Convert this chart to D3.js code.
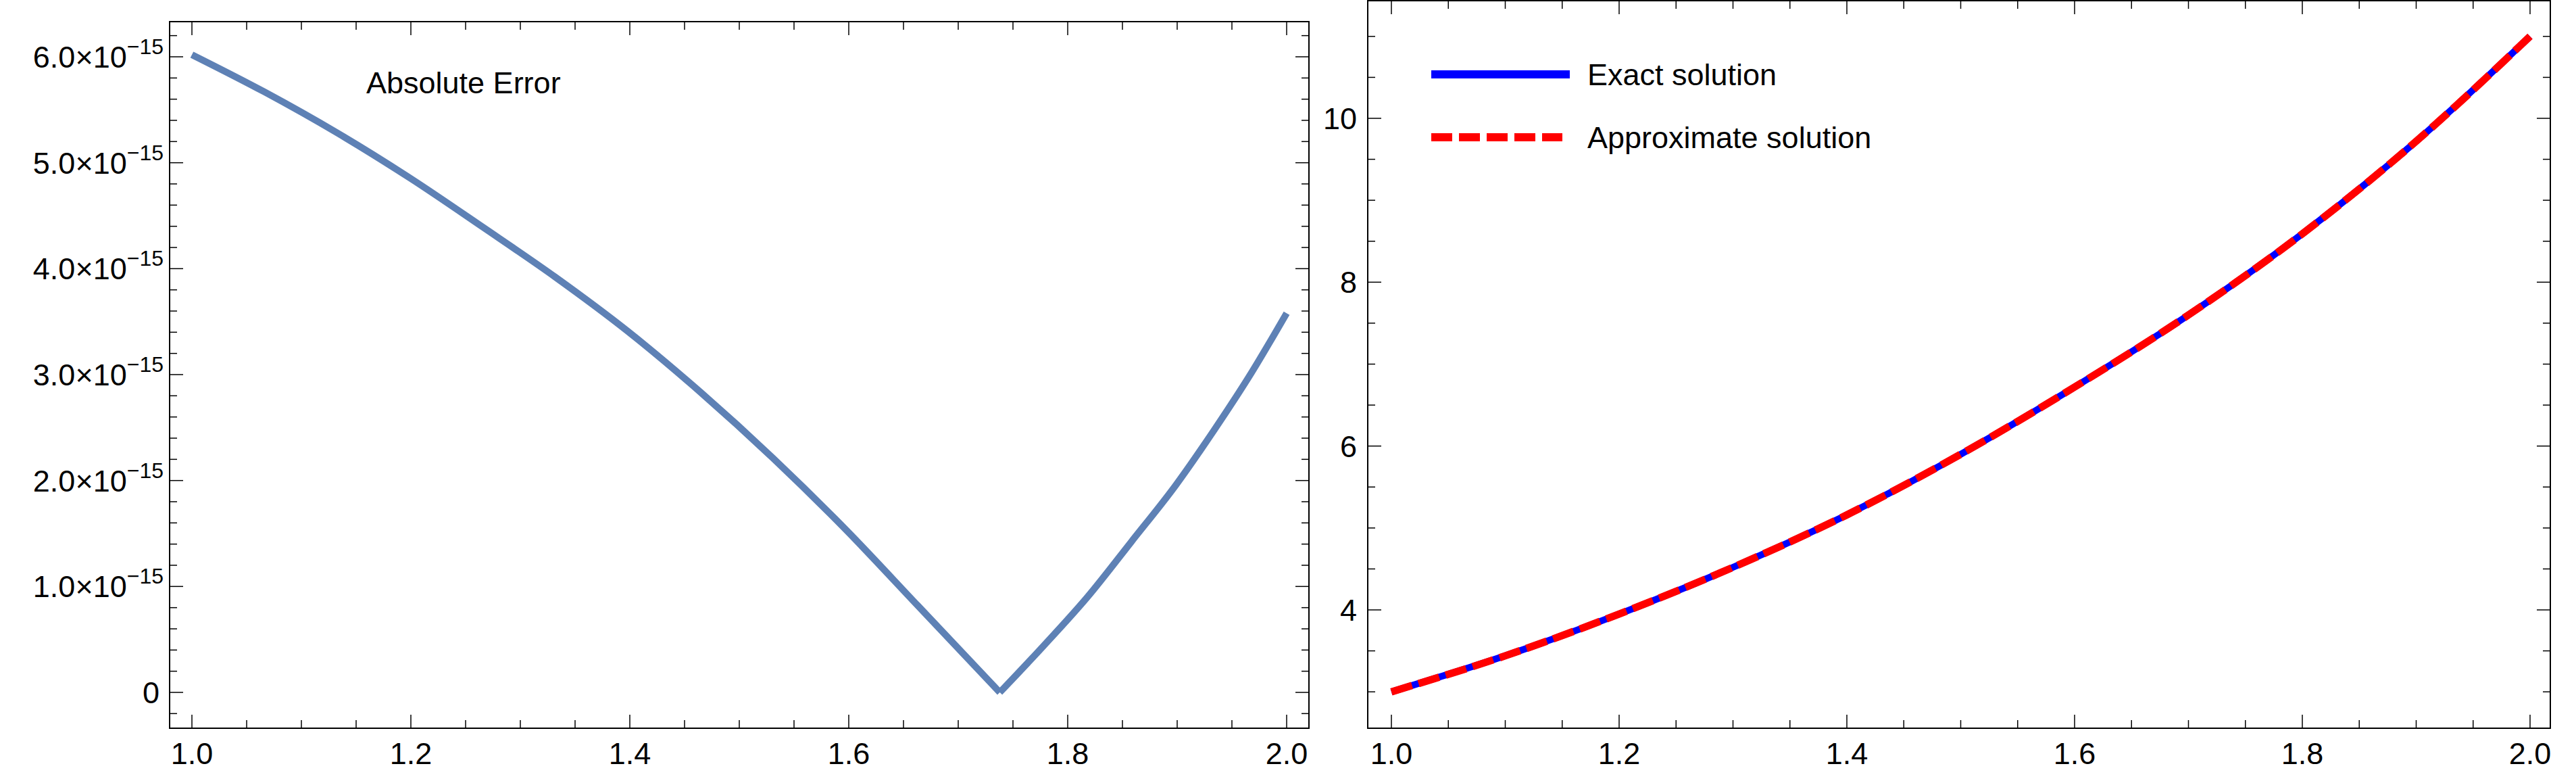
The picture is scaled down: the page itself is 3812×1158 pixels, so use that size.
<!DOCTYPE html>
<html>
<head>
<meta charset="utf-8">
<script src="https://cdn.jsdelivr.net/npm/d3@7"></script>
<style>
  body { margin: 0; background: #fff; }
  text { font-family: "Liberation Sans", Arial, sans-serif; fill: #000; }
</style>
</head>
<body>
<svg id="chart" width="3812" height="1158"></svg>
<script>
// Left panel: absolute error (units of 1e-15)
const errX = [1.0, 1.066, 1.133, 1.2, 1.266, 1.332, 1.398, 1.465, 1.531, 1.597, 1.663, 1.738, 1.778, 1.818, 1.858, 1.899, 1.934, 1.968, 2.0];
const errY = [6.02, 5.67, 5.28, 4.85, 4.39, 3.92, 3.41, 2.83, 2.21, 1.54, 0.82, 0.0, 0.44, 0.90, 1.42, 1.96, 2.48, 3.02, 3.58];
const errTicks = [0, 1, 2, 3, 4, 5, 6];
const errMinIndex = 11; // the point where the error touches zero

// Right panel: exact vs approximate solution
const solX = [1.0, 1.1, 1.2, 1.3, 1.4, 1.5, 1.6, 1.7, 1.8, 1.9, 2.0];
const exactY = [3.0, 3.44, 3.95, 4.52, 5.16, 5.9, 6.72, 7.6, 8.59, 9.72, 11.0];
const approxY = [3.0, 3.44, 3.95, 4.52, 5.16, 5.9, 6.72, 7.6, 8.59, 9.72, 11.0];
const solTicks = [4, 6, 8, 10];
const xTicks = [1.0, 1.2, 1.4, 1.6, 1.8, 2.0];
const legendLabels = ["Exact solution", "Approximate solution"];

const svg = d3.select("#chart");
const font = 45;

function frame(x0, x1, y0, y1, xScale, yScale, yMajor, yMinorStep, yMin, yMax) {
  const g = svg.append("g");
  g.append("rect").attr("x", x0).attr("y", y0).attr("width", x1 - x0).attr("height", y1 - y0)
    .attr("fill", "none").attr("stroke", "#000").attr("stroke-width", 2);
  const xMinor = d3.range(1.0, 2.0001, 0.05);
  xMinor.forEach(v => {
    const major = Math.abs(v * 5 - Math.round(v * 5)) < 1e-6;
    const len = major ? 20 : 12;
    const x = xScale(v);
    g.append("line").attr("x1", x).attr("x2", x).attr("y1", y1).attr("y2", y1 - len).attr("stroke", "#000").attr("stroke-width", 1.5);
    g.append("line").attr("x1", x).attr("x2", x).attr("y1", y0).attr("y2", y0 + len).attr("stroke", "#000").attr("stroke-width", 1.5);
  });
  const yMinor = d3.range(Math.ceil(yMin / yMinorStep) * yMinorStep, yMax, yMinorStep);
  yMinor.forEach(v => {
    const major = yMajor.some(m => Math.abs(m - v) < 1e-6);
    const len = major ? 20 : 11;
    const y = yScale(v);
    g.append("line").attr("x1", x0).attr("x2", x0 + len).attr("y1", y).attr("y2", y).attr("stroke", "#000").attr("stroke-width", 1.5);
    g.append("line").attr("x1", x1).attr("x2", x1 - len).attr("y1", y).attr("y2", y).attr("stroke", "#000").attr("stroke-width", 1.5);
  });
  g.selectAll(".xl").data(xTicks).join("text")
    .attr("x", d => xScale(d)).attr("y", y1 + 53).attr("text-anchor", "middle")
    .attr("font-size", font).text(d => d.toFixed(1));
  return g;
}

// ---- left panel
const lx = d3.scaleLinear().domain([1, 2]).range([284, 1904]);
const ly = d3.scaleLinear().domain([0, 6]).range([1024, 84]);
const lg = frame(251, 1937, 32, 1077, lx, ly, errTicks, 0.2, -0.34, 6.33);
errTicks.forEach(v => {
  const t = lg.append("text").attr("x", v === 0 ? 236 : 242).attr("y", ly(v) + 16)
    .attr("text-anchor", "end").attr("font-size", font);
  if (v === 0) { t.text("0"); return; }
  t.append("tspan").text(v.toFixed(1) + "\u00d7" + "10");
  t.append("tspan").attr("font-size", 32).attr("dy", -20).text("\u221215");
});
lg.append("text").attr("x", 542).attr("y", 138).attr("font-size", font).text("Absolute Error");
const errData = errX.map((x, i) => [x, errY[i]]);
const errLine = d3.line().x(d => lx(d[0])).y(d => ly(d[1])).curve(d3.curveMonotoneX);
// two branches so the zero crossing stays a sharp V
[errData.slice(0, errMinIndex + 1), errData.slice(errMinIndex)].forEach(part => {
  svg.append("path").datum(part)
    .attr("fill", "none").attr("stroke", "#5e81b5").attr("stroke-width", 10)
    .attr("stroke-linejoin", "miter").attr("d", errLine);
});

// ---- right panel
const rx = d3.scaleLinear().domain([1, 2]).range([2059, 3744]);
const ry = d3.scaleLinear().domain([4, 10]).range([902, 175]);
const rg = frame(2024, 3774, 1, 1077, rx, ry, solTicks, 0.5, 2.6, 11.4);
rg.selectAll(".yl").data(solTicks).join("text")
  .attr("x", 2008).attr("y", d => ry(d) + 16).attr("text-anchor", "end")
  .attr("font-size", font).text(d => d);

const line = d3.line().x(d => rx(d[0])).y(d => ry(d[1])).curve(d3.curveMonotoneX);
svg.append("path").datum(solX.map((x, i) => [x, exactY[i]]))
  .attr("fill", "none").attr("stroke", "#0000ff").attr("stroke-width", 10).attr("d", line);
svg.append("path").datum(solX.map((x, i) => [x, approxY[i]]))
  .attr("fill", "none").attr("stroke", "#ff0000").attr("stroke-width", 11)
  .attr("stroke-dasharray", "32,10").attr("d", line);

// legend
const leg = svg.append("g");
leg.append("line").attr("x1", 2118).attr("x2", 2323).attr("y1", 110).attr("y2", 110)
  .attr("stroke", "#0000ff").attr("stroke-width", 12);
leg.append("line").attr("x1", 2118).attr("x2", 2312).attr("y1", 203).attr("y2", 203)
  .attr("stroke", "#ff0000").attr("stroke-width", 12).attr("stroke-dasharray", "31,10");
leg.selectAll("text").data(legendLabels).join("text")
  .attr("x", 2349).attr("y", (d, i) => 126 + i * 93)
  .attr("font-size", font).text(d => d);
</script>
</body>
</html>
